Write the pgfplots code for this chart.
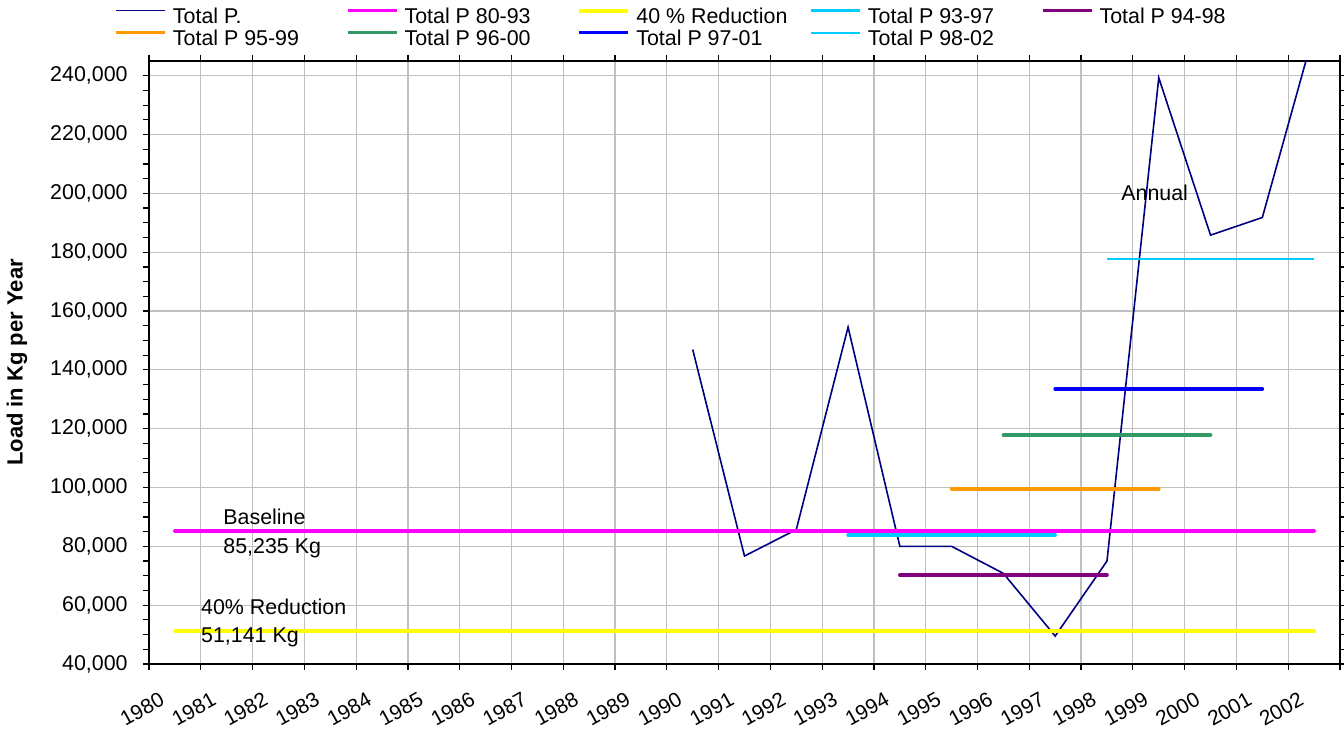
\documentclass[border=0pt]{standalone}
\usepackage{fontspec}
\setmainfont{Liberation Sans}
\usepackage{pgfplots}
\pgfplotsset{compat=1.18}
\definecolor{tpnavy}{RGB}{0,0,128}
\definecolor{tpmag}{RGB}{255,0,255}
\definecolor{tpyel}{RGB}{255,255,0}
\definecolor{tpcyan}{RGB}{0,204,255}
\definecolor{tppurp}{RGB}{128,0,128}
\definecolor{tporange}{RGB}{255,153,0}
\definecolor{tpgreen}{RGB}{51,153,102}
\definecolor{tpblue}{RGB}{0,0,255}
\definecolor{gridgray}{RGB}{192,192,192}

\newcommand{\lgd}[1]{\makebox[86.5pt][l]{#1}}
\newcommand{\txtfont}{\fontsize{10.7}{12.8}\selectfont}

\begin{document}
\begin{tikzpicture}
\begin{axis}[
  scale only axis, width=595.5pt, height=301.5pt,
  xmin=-0.5, xmax=22.5, ymin=40000, ymax=245000,
  font=\txtfont,
  axis line style={line width=1pt},
  xtick={0,...,22},
  xticklabels={1980,1981,1982,1983,1984,1985,1986,1987,1988,1989,1990,1991,
    1992,1993,1994,1995,1996,1997,1998,1999,2000,2001,2002},
  minor xtick={-0.5,0.5,1.5,2.5,3.5,4.5,5.5,6.5,7.5,8.5,9.5,10.5,11.5,
    12.5,13.5,14.5,15.5,16.5,17.5,18.5,19.5,20.5,21.5,22.5},
  major x tick style={draw=none},
  xmajorgrids=false, xminorgrids=true, ymajorgrids=true,
  ytick={40000,60000,...,240000}, minor y tick num=3,
  tick align=outside, major tick length=3pt, minor tick length=3pt,
  tick style={black, line width=0.6pt},
  grid style={gridgray, line width=0.6pt},
  minor grid style={gridgray, line width=0.6pt},
  scaled y ticks=false,
  /pgf/number format/assume math mode=true,
  yticklabel style={font=\txtfont, inner sep=0pt, xshift=-7.5pt,
    /pgf/number format/fixed, /pgf/number format/1000 sep={,}},
  xticklabel style={font=\fontsize{10.4}{12}\selectfont, inner sep=0pt,
    xshift=-8pt, yshift=-10.5pt, rotate=29, anchor=north east},
  ylabel={\bfseries Load in Kg per Year},
  ylabel style={font=\fontsize{11}{13}\selectfont,
    at={(axis description cs:-0.1108,0.5)}, anchor=center, rotate=0},
  legend columns=5,
  legend cell align=left,
  legend image code/.code={\draw[#1, line cap=butt] (0pt,3.6pt) -- (24.5pt,3.6pt);},
  legend style={draw=none, fill=none, at={(-0.0294,1.088)}, anchor=north west,
    font=\txtfont, inner sep=0pt, row sep=1.5pt,
    nodes={inner sep=0pt, text height=7.5pt, text depth=2pt},
    /tikz/every odd column/.append style={column sep=3pt}},
]
\addplot[tpnavy, line width=0.8pt] coordinates {
  (10,146900) (11,76700) (12,85700) (13,154500) (14,80000) (15,80000)
  (16,70800) (17,49500) (18,75000) (19,239300) (20,185800) (21,191800)
  (22,255000)
};
\addlegendentry{\lgd{Total P.}}
\addplot[tpmag, line width=1.8pt, line cap=round] coordinates {(0,85235) (22,85235)};
\addlegendentry{\lgd{Total P 80-93}}
\addplot[tpyel, line width=1.9pt, line cap=round] coordinates {(0,51141) (22,51141)};
\addlegendentry{\lgd{40 \% Reduction}}
\addplot[tpcyan, line width=1.8pt, line cap=round] coordinates {(13,83900) (17,83900)};
\addlegendentry{\lgd{Total P 93-97}}
\addplot[tppurp, line width=1.8pt, line cap=round] coordinates {(14,70300) (18,70300)};
\addlegendentry{\lgd{Total P 94-98}}
\addplot[tporange, line width=1.8pt, line cap=round] coordinates {(15,99500) (19,99500)};
\addlegendentry{\lgd{Total P 95-99}}
\addplot[tpgreen, line width=1.8pt, line cap=round] coordinates {(16,117900) (20,117900)};
\addlegendentry{\lgd{Total P 96-00}}
\addplot[tpblue, line width=1.8pt, line cap=round] coordinates {(17,133500) (21,133500)};
\addlegendentry{\lgd{Total P 97-01}}
\addplot[tpcyan, line width=0.9pt] coordinates {(18,177600) (22,177600)};
\addlegendentry{\lgd{Total P 98-02}}

\node[anchor=west, inner sep=0pt] at (axis cs:0.93,89890) {Baseline};
\node[anchor=west, inner sep=0pt] at (axis cs:0.93,79370) {85,235 Kg};
\node[anchor=west, inner sep=0pt] at (axis cs:0.50,59345) {40\% Reduction};
\node[anchor=west, inner sep=0pt] at (axis cs:0.50,49160) {51,141 Kg};
\node[anchor=west, inner sep=0pt] at (axis cs:18.27,200190) {Annual};
\end{axis}
\pgfresetboundingbox
\path (-74.5pt,-35.5pt) rectangle (597.5pt,332pt);
\end{tikzpicture}
\end{document}
